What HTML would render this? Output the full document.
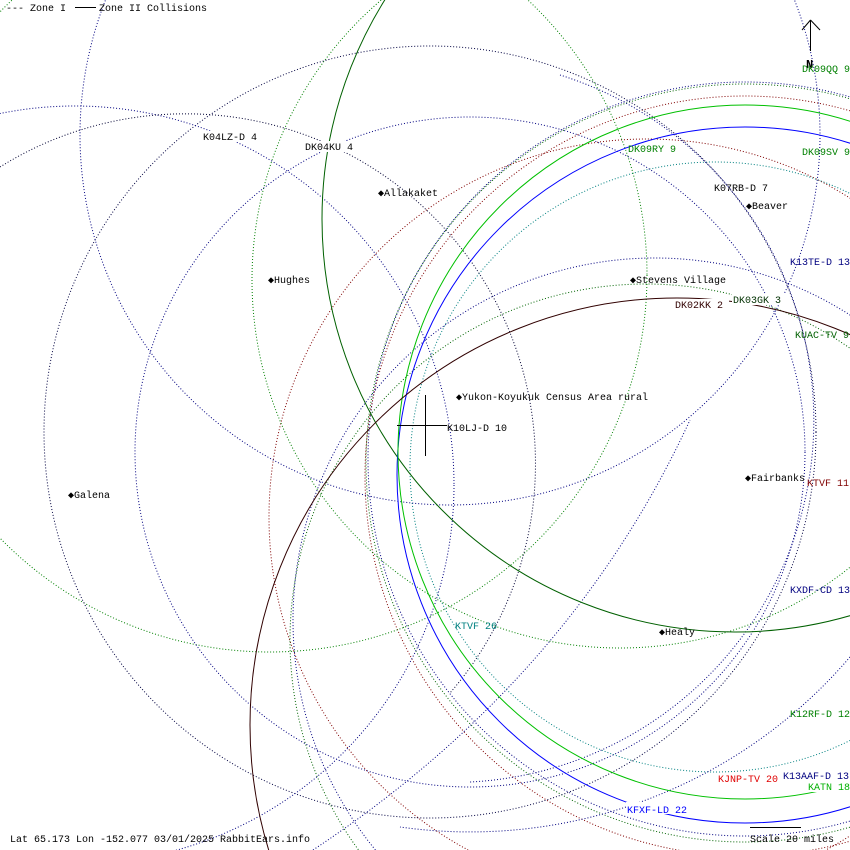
<!DOCTYPE html>
<html><head><meta charset="utf-8"><style>
html,body{margin:0;padding:0;background:#fff;width:850px;height:850px;overflow:hidden}
svg{display:block;overflow:hidden}
text{font-family:"Liberation Mono","DejaVu Sans Mono",monospace;font-size:10px}
</style></head><body>
<svg width="850" height="850" viewBox="0 0 850 850" xmlns="http://www.w3.org/2000/svg">
<rect width="850" height="850" fill="#fff"/>
<g fill="none" stroke-width="1">
<g stroke-dasharray="1,2">
<circle cx="745" cy="459" r="377" stroke="#000080"/>
<circle cx="745" cy="463" r="379" stroke="#006400"/>
<circle cx="745" cy="476" r="380" stroke="#800000"/>
<circle cx="647" cy="517" r="378" stroke="#800000"/>
<circle cx="715" cy="467" r="305" stroke="#008080"/>
<circle cx="655" cy="620" r="362" stroke="#000080"/>
<circle cx="646" cy="640" r="356" stroke="#006400"/>
<circle cx="620" cy="280" r="368" stroke="#008000"/>
<circle cx="270" cy="275" r="377" stroke="#008000"/>
<circle cx="430" cy="432" r="386" stroke="#000040"/>
<circle cx="470" cy="452" r="335" stroke="#000080"/>
<circle cx="450" cy="135" r="370" stroke="#000080"/>
<circle cx="75" cy="485" r="379" stroke="#000080"/>
<path d="M0,167 A350,350 0 0 1 450,693" stroke="#000033"/>
<path d="M560,75 A362,362 0 0 1 470,782" stroke="#000080"/>
<path d="M850,657 A500,500 0 0 1 400,827" stroke="#000080"/>
<path d="M313,850 Q570,680 690,420" stroke="#000080"/>
</g>
<circle cx="735" cy="219" r="413" stroke="#006000"/>
<circle cx="745" cy="475" r="348" stroke="#0000ff"/>
<circle cx="745" cy="452" r="347" stroke="#00c000"/>
<circle cx="677" cy="725" r="427" stroke="#300000"/>
</g>
<g fill="#fff">
<rect x="202" y="131" width="55" height="11"/>
<rect x="304" y="141" width="49" height="11"/>
<rect x="674" y="299" width="55" height="11"/>
<rect x="732" y="294" width="55" height="11"/>
<rect x="626" y="802" width="62" height="12"/>
<rect x="717" y="773" width="62" height="11"/>
<rect x="807" y="781" width="43" height="11"/>
</g>
<g stroke="#000" stroke-width="1">
<line x1="397" y1="425.5" x2="447" y2="425.5"/>
<line x1="425.5" y1="395" x2="425.5" y2="456"/>
<line x1="810.5" y1="20" x2="810.5" y2="51"/>
<line x1="810.5" y1="20" x2="802" y2="30"/>
<line x1="810.5" y1="20" x2="820" y2="30"/>
<line x1="750" y1="827.5" x2="801" y2="827.5"/>
<line x1="75" y1="7.5" x2="96" y2="7.5"/>
</g>
<text x="6" y="11" fill="#000">--- Zone I</text>
<text x="99" y="11" fill="#000">Zone II Collisions</text>
<text x="806" y="68" fill="#000" font-weight="bold" style="font-size:12px">N</text>
<g fill="#000">
<text x="203" y="140">K04LZ-D 4</text>
<text x="305" y="150">DK04KU 4</text>
<text x="378" y="196">◆Allakaket</text>
<text x="268" y="283">◆Hughes</text>
<text x="68" y="498">◆Galena</text>
<text x="714" y="191">K07RB-D 7</text>
<text x="746" y="209">◆Beaver</text>
<text x="630" y="283">◆Stevens Village</text>
<text x="456" y="400">◆Yukon-Koyukuk Census Area rural</text>
<text x="447" y="431">K10LJ-D 10</text>
<text x="745" y="481">◆Fairbanks</text>
<text x="659" y="635">◆Healy</text>
<text x="750" y="842">Scale 20 miles</text>
<text x="10" y="842">Lat 65.173 Lon -152.077 03/01/2025 RabbitEars.info</text>
</g>
<text x="802" y="72" fill="#008000">DK09QQ 9</text>
<text x="628" y="152" fill="#008000">DK09RY 9</text>
<text x="802" y="155" fill="#008000">DK09SV 9</text>
<text x="790" y="265" fill="#000080">K13TE-D 13</text>
<text x="675" y="308" fill="#300000">DK02KK 2</text>
<text x="733" y="303" fill="#003000">DK03GK 3</text>
<text x="795" y="338" fill="#006000">KUAC-TV 9</text>
<text x="807" y="486" fill="#800000">KTVF 11</text>
<text x="790" y="593" fill="#000080">KXDF-CD 13</text>
<text x="455" y="629" fill="#008080">KTVF 26</text>
<text x="790" y="717" fill="#008000">K12RF-D 12</text>
<text x="783" y="779" fill="#000080">K13AAF-D 13</text>
<text x="718" y="782" fill="#e00000">KJNP-TV 20</text>
<text x="808" y="790" fill="#00b000">KATN 18</text>
<text x="627" y="813" fill="#0000ff">KFXF-LD 22</text>
</svg>
</body></html>
